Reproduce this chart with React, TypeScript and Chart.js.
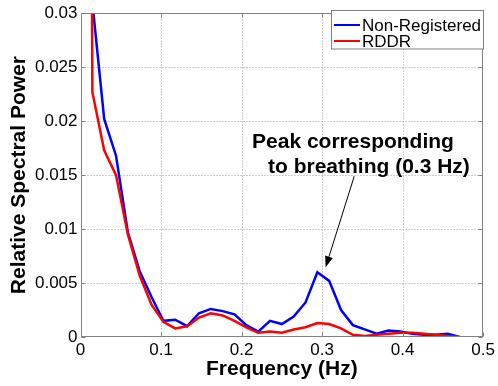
import React, { useEffect, useRef } from "react";
import { Chart, registerables } from "chart.js";

Chart.register(...registerables);

// Frequency bins (Hz)
const FREQ = [
  0, 0.0147, 0.0294, 0.0441, 0.0588, 0.0735, 0.0882, 0.1029, 0.1176, 0.1324,
  0.1471, 0.1618, 0.1765, 0.1912, 0.2059, 0.2206, 0.2353, 0.25, 0.2647, 0.2794,
  0.2941, 0.3088, 0.3235, 0.3382, 0.3529, 0.3676, 0.3824, 0.3971, 0.4118, 0.4265,
  0.4412, 0.4559, 0.4706,
];

// Relative spectral power, Non-Registered
const NON_REGISTERED = [
  0.35, 0.031, 0.0202, 0.0168, 0.0097, 0.0061, 0.0037, 0.0015, 0.0016, 0.001,
  0.0022, 0.0026, 0.0024, 0.0021, 0.0011, 0.0005, 0.0015, 0.0012, 0.0019, 0.0032,
  0.006, 0.0052, 0.0025, 0.0011, 0.0007, 0.0003, 0.0006, 0.0005, 0.0003, 0.0002,
  0.0002, 0.0003, 0.0,
];

// Relative spectral power, RDDR
const RDDR = [
  0.3, 0.0227, 0.0173, 0.015, 0.0095, 0.0057, 0.003, 0.0014, 0.0008, 0.001,
  0.0018, 0.0022, 0.002, 0.0015, 0.0009, 0.0004, 0.0005, 0.0004, 0.0007, 0.0009,
  0.0013, 0.0012, 0.0008, 0.0002, 0.0001, 0.0002, 0.0003, 0.0004, 0.0004, 0.0003,
  0.0002, 0.0001, 0.0,
];

const SERIES_LABELS = ["Non-Registered", "RDDR"];
const SERIES_COLORS = ["#0000ff", "#ff0000"];
const X_RANGE = [0, 0.5];
const X_STEP = 0.1;
const Y_RANGE = [0, 0.03];
const Y_STEP = 0.005;
const X_TITLE = "Frequency (Hz)";
const Y_TITLE = "Relative Spectral Power";
const ANNOTATION_LINE_1 = "Peak corresponding";
const ANNOTATION_LINE_2 = "to breathing (0.3 Hz)";

const FONT = "'Liberation Sans', Arial, Helvetica, sans-serif";
const AXIS_GRAY = "#808080";
const GRID_GRAY = "#9a9a9a";

const fmt = (v: number) => String(Number(Number(v).toFixed(4)));

const edges = (chart: any) => {
  const { chartArea } = chart;
  return {
    L: Math.round(chartArea.left) + 0.5,
    R: Math.round(chartArea.right) - 0.5,
    T: Math.round(chartArea.top) + 0.5,
    B: Math.round(chartArea.bottom) - 0.5,
  };
};

const overlayPlugin = {
  id: "matlabOverlay",
  beforeDatasetsDraw(chart: any) {
    const { ctx, scales } = chart;
    const xs = scales.x;
    const ys = scales.y;
    const { L, R, T, B } = edges(chart);
    ctx.save();
    ctx.strokeStyle = GRID_GRAY;
    ctx.lineWidth = 1;
    ctx.setLineDash([1, 2]);
    ctx.beginPath();
    xs.ticks.forEach((t: any) => {
      if (t.value <= xs.min + 1e-9 || t.value >= xs.max - 1e-9) return;
      const px = Math.round(xs.getPixelForValue(t.value)) + 0.5;
      ctx.moveTo(px, T);
      ctx.lineTo(px, B);
    });
    ys.ticks.forEach((t: any) => {
      if (t.value <= ys.min + 1e-9 || t.value >= ys.max - 1e-9) return;
      const py = Math.round(ys.getPixelForValue(t.value)) + 0.5;
      ctx.moveTo(L, py);
      ctx.lineTo(R, py);
    });
    ctx.stroke();
    ctx.restore();
  },
  afterDraw(chart: any) {
    const { ctx, scales } = chart;
    const xs = scales.x;
    const ys = scales.y;
    const { L, R, T, B } = edges(chart);
    ctx.save();
    // frame
    ctx.strokeStyle = AXIS_GRAY;
    ctx.lineWidth = 1;
    ctx.setLineDash([]);
    ctx.strokeRect(L, T, R - L, B - T);
    // inward ticks
    const tl = 4;
    ctx.beginPath();
    xs.ticks.forEach((t: any) => {
      const px = Math.round(xs.getPixelForValue(t.value)) + 0.5;
      ctx.moveTo(px, B);
      ctx.lineTo(px, B - tl);
      ctx.moveTo(px, T);
      ctx.lineTo(px, T + tl);
    });
    ys.ticks.forEach((t: any) => {
      const py = Math.round(ys.getPixelForValue(t.value)) + 0.5;
      ctx.moveTo(L, py);
      ctx.lineTo(L + tl, py);
      ctx.moveTo(R, py);
      ctx.lineTo(R - tl, py);
    });
    ctx.stroke();

    // legend
    const lx = 331.5;
    const ly = 10.5;
    const lw = 152;
    const lh = 38.5;
    ctx.fillStyle = "#ffffff";
    ctx.fillRect(lx, ly, lw, lh);
    ctx.strokeStyle = AXIS_GRAY;
    ctx.strokeRect(lx, ly, lw, lh);
    ctx.font = `17px ${FONT}`;
    ctx.textBaseline = "middle";
    ctx.textAlign = "left";
    SERIES_LABELS.forEach((label, i) => {
      const yy = 25 + i * 16;
      ctx.strokeStyle = SERIES_COLORS[i];
      ctx.lineWidth = 2;
      ctx.beginPath();
      ctx.moveTo(334, yy);
      ctx.lineTo(360, yy);
      ctx.stroke();
      ctx.fillStyle = "#000000";
      ctx.fillText(label, 362, yy + 1);
    });

    // annotation text
    ctx.fillStyle = "#000000";
    ctx.font = `bold 21px ${FONT}`;
    ctx.textBaseline = "alphabetic";
    ctx.textAlign = "left";
    ctx.fillText(ANNOTATION_LINE_1, xs.getPixelForValue(0.213), ys.getPixelForValue(0.01749));
    ctx.fillText(ANNOTATION_LINE_2, xs.getPixelForValue(0.2328), ys.getPixelForValue(0.01519));

    // arrow
    const x1 = xs.getPixelForValue(0.3399);
    const y1 = ys.getPixelForValue(0.01489);
    const x2 = xs.getPixelForValue(0.3044);
    const y2 = ys.getPixelForValue(0.00646);
    const ang = Math.atan2(y2 - y1, x2 - x1);
    const hl = 11;
    const hw = 4;
    const bx = x2 - hl * Math.cos(ang);
    const by = y2 - hl * Math.sin(ang);
    ctx.strokeStyle = "#000000";
    ctx.lineWidth = 1;
    ctx.beginPath();
    ctx.moveTo(x1, y1);
    ctx.lineTo(bx, by);
    ctx.stroke();
    ctx.beginPath();
    ctx.moveTo(x2, y2);
    ctx.lineTo(bx + hw * Math.sin(ang), by - hw * Math.cos(ang));
    ctx.lineTo(bx - hw * Math.sin(ang), by + hw * Math.cos(ang));
    ctx.closePath();
    ctx.fill();
    ctx.restore();
  },
};

export default function App() {
  const ref = useRef<HTMLCanvasElement | null>(null);

  useEffect(() => {
    if (!ref.current) return;
    const mk = (vals: number[]) => FREQ.map((f, i) => ({ x: f, y: vals[i] }));
    const chart = new Chart(ref.current, {
      type: "line",
      data: {
        datasets: [
          {
            label: SERIES_LABELS[0],
            data: mk(NON_REGISTERED),
            borderColor: SERIES_COLORS[0],
            backgroundColor: SERIES_COLORS[0],
            borderWidth: 2.5,
            pointRadius: 0,
            tension: 0,
            clip: 0,
            order: 1,
          },
          {
            label: SERIES_LABELS[1],
            data: mk(RDDR),
            borderColor: SERIES_COLORS[1],
            backgroundColor: SERIES_COLORS[1],
            borderWidth: 2.5,
            pointRadius: 0,
            tension: 0,
            clip: 0,
            order: 0,
          },
        ],
      },
      options: {
        animation: false,
        responsive: false,
        maintainAspectRatio: false,
        devicePixelRatio: 1,
        layout: { padding: { top: 10, right: 12, left: 0, bottom: 0 } },
        plugins: {
          legend: { display: false },
          tooltip: { enabled: false },
        },
        scales: {
          x: {
            type: "linear",
            min: X_RANGE[0],
            max: X_RANGE[1],
            afterFit: (s: any) => {
              s.height = 49;
            },
            ticks: {
              stepSize: X_STEP,
              color: "#000000",
              padding: 3,
              maxRotation: 0,
              autoSkip: false,
              font: { family: FONT, size: 17 },
              callback: (v: any) => fmt(v),
            },
            grid: { display: false, drawTicks: false },
            border: { display: false },
            title: {
              display: true,
              text: X_TITLE,
              color: "#000000",
              font: { family: FONT, size: 21, weight: "bold" },
              padding: { top: 0, bottom: 4 },
            },
          },
          y: {
            type: "linear",
            min: Y_RANGE[0],
            max: Y_RANGE[1],
            afterFit: (s: any) => {
              s.width = 80.5;
            },
            ticks: {
              stepSize: Y_STEP,
              color: "#000000",
              padding: 3,
              autoSkip: false,
              font: { family: FONT, size: 17 },
              callback: (v: any) => fmt(v),
            },
            grid: { display: false, drawTicks: false },
            border: { display: false },
            title: {
              display: true,
              text: Y_TITLE,
              color: "#000000",
              font: { family: FONT, size: 21, weight: "bold" },
              padding: { top: 7, bottom: 0 },
            },
          },
        },
      },
      plugins: [overlayPlugin],
    } as any);
    return () => chart.destroy();
  }, []);

  return (
    <div style={{ position: "fixed", left: 0, top: 0, width: 498, height: 386, background: "#ffffff" }}>
      <canvas ref={ref} width={498} height={386} style={{ display: "block", width: 498, height: 386 }} />
    </div>
  );
}
